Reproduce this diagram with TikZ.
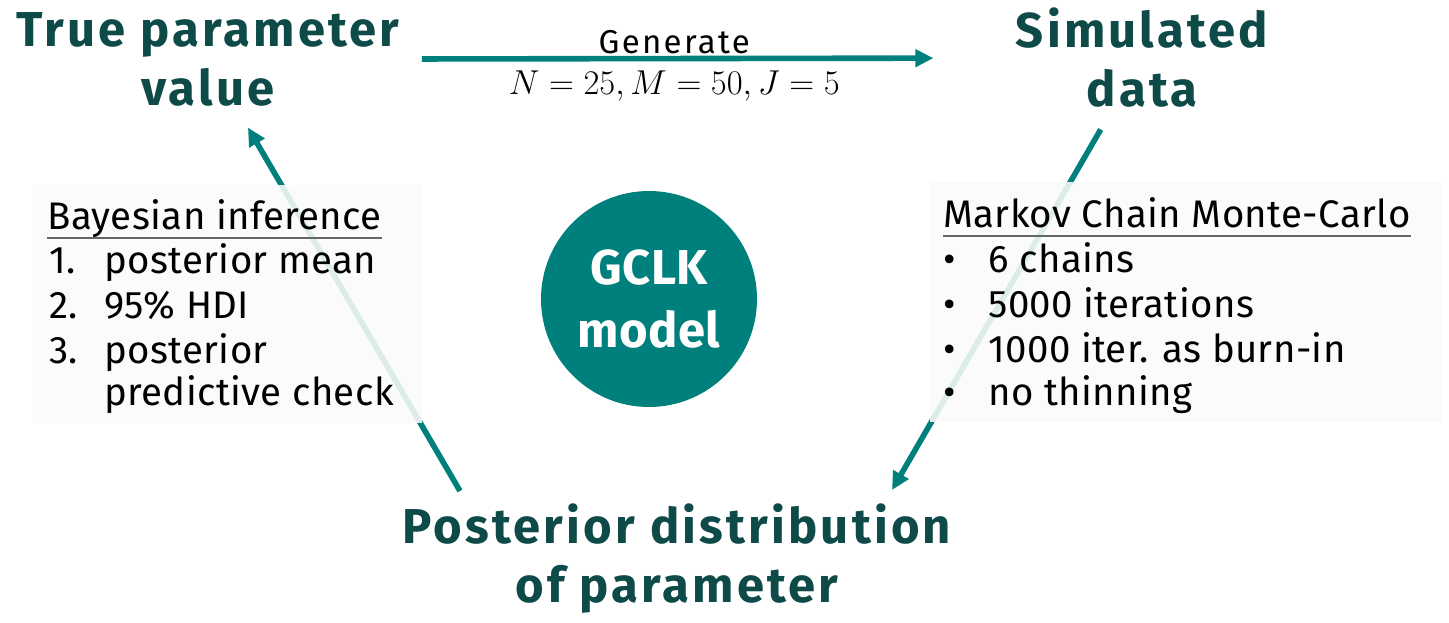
\documentclass[tikz,border=0pt]{standalone}
\usepackage{fontspec}
\setmainfont{Fira Sans}[LetterSpace=1]
\newfontfamily\stagefont{Fira Sans}[LetterSpace=6.5]
\newfontfamily\labelfont{Fira Sans}[LetterSpace=7]
\usetikzlibrary{arrows.meta}
\usetikzlibrary{calc}

\definecolor{stageteal}{RGB}{13,74,72}
\definecolor{flowteal}{RGB}{0,128,125}
\definecolor{boxgray}{RGB}{251,251,251}

\tikzset{
  stage/.style={align=center, text=stageteal, inner sep=2pt,
    font=\stagefont\fontsize{24.5}{29.5}\selectfont\bfseries},
  flow/.style={draw=flowteal, line width=2.8pt, -{Triangle[length=9pt,width=8.5pt]}},
  infobox/.style={fill=boxgray, fill opacity=0.88},
  boxtext/.style={anchor=base west, inner sep=0pt, font=\fontsize{19.2}{22}\selectfont},
  headrule/.style={draw=black!60, line width=0.7pt},
}

\begin{document}
\begin{tikzpicture}[x=0.5pt,y=-0.5pt]
                \useasboundingbox (0,0) rectangle (1449,622);

                \node[stage] (truev) at (208,59) {True parameter\\value};
                \node[stage] (simdata) at (1142,58) {Simulated\\data};
                \node[stage] (postdist) at (677,559) {Posterior distribution\\of parameter};
                \node[circle, fill=flowteal, minimum size=108pt, inner sep=0pt, align=center, text=white,
                      font=\fontsize{24.5}{31.5}\selectfont\bfseries] (gclk) at (649,299) {GCLK\\model};

                \coordinate (bayesend) at (460,491);
                \coordinate (mcmcend) at (892,490);

                \draw[flow, shorten <=9pt, shorten >=39pt] (truev.east) to
                      node[pos=0.445, above=1pt, inner sep=0pt, font=\labelfont\fontsize{16.5}{18}\selectfont] {Generate}
                      node[pos=0.445, below=5pt, inner sep=0pt, font=\fontsize{17.6}{18}\selectfont] {$N = 25, M = 50, J = 5$}
                      (simdata.west);
                \draw[flow, shorten >=10pt] (bayesend) to (truev);
                \draw[flow, shorten <=10pt] (simdata) to (mcmcend);

                % left box
                \fill[infobox] (32,185) rectangle (422,423);
                \node[boxtext] (bayes) at (47,229) {Bayesian inference};
                \draw[headrule] ([yshift=-4.5pt]bayes.base west) -- ([yshift=-4.5pt]bayes.base east);
                \node[boxtext] (num1) at (49,273) {1.};
                \node[boxtext] (mean) at (104,273) {posterior mean};
                \node[boxtext] (num2) at (49,318) {2.};
                \node[boxtext] (hdi) at (104,318) {95\% HDI};
                \node[boxtext] (num3) at (49,363) {3.};
                \node[boxtext] (ppc) at (104,363) {posterior};
                \node[boxtext] (ppcb) at (104,405) {predictive check};

                % right box
                \fill[infobox] (930,182) rectangle (1442,422);
                \node[boxtext] (mcmc) at (943,227) {Markov Chain Monte-Carlo};
                \draw[headrule] ([yshift=-4.5pt]mcmc.base west) -- ([yshift=-4.5pt]mcmc.base east);
                \node[boxtext] (dot1) at (943,272) {\textbullet};
                \node[boxtext] (chains) at (988,272) {6 chains};
                \node[boxtext] (dot2) at (943,317) {\textbullet};
                \node[boxtext] (iters) at (988,317) {5000 iterations};
                \node[boxtext] (dot3) at (943,362) {\textbullet};
                \node[boxtext] (burnin) at (988,362) {1000 iter. as burn-in};
                \node[boxtext] (dot4) at (943,405) {\textbullet};
                \node[boxtext] (thin) at (988,405) {no thinning};
            \end{tikzpicture}
\end{document}
